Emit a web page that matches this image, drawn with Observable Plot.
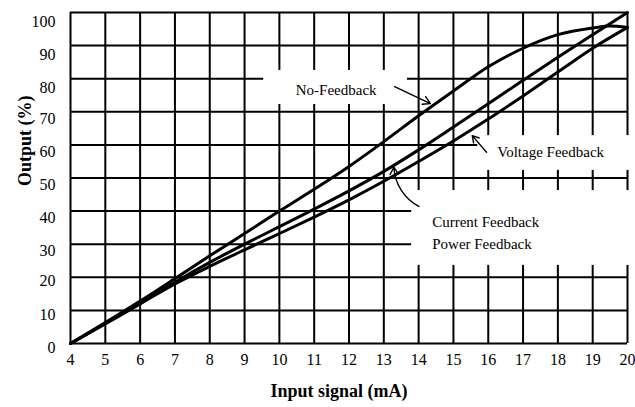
<!DOCTYPE html>
<html><head><meta charset="utf-8">
<script src="https://cdn.jsdelivr.net/npm/d3@7"></script>
<script src="https://cdn.jsdelivr.net/npm/@observablehq/plot@0.6"></script>
<style>
body{margin:0;background:#fff;}
g[aria-label="curve-labels"] text {letter-spacing:1.8px;}
</style></head><body><div id="chart"></div>
<script>
// Tick values
const xTicks = [4,5,6,7,8,9,10,11,12,13,14,15,16,17,18,19,20];
const yTicksLow = [0,10,20];
const yTicksMid = [30,40,50,60,70];
const yTicksHigh = [80,90,100];
const yTicks = [...yTicksLow, ...yTicksMid, ...yTicksHigh];

// Titles
const xTitle = "Input signal (mA)";
const yTitle = "Output (%)";

// Series
const inputMA = [4,5,6,7,8,9,10,11,12,13,14,15,16,17,18,19,20];
const noFeedbackX = [4,5,6,7,8,9,10,11,12,13,14,15,16,17,18,19,19.5,20];
const noFeedback = [0,6.3,12.8,19.6,26.5,33.2,40,46.6,53.5,61,68.8,76.3,83.6,89.2,93.3,95.3,95.9,95.5];
const currentPower = [0,6,12,18.5,24.5,30,35.3,40.6,46.1,52,58.5,65.4,72.4,79.5,86.5,93.3,100];
const voltage = [0,6,12,18,23.3,28.3,33.2,38.2,43.4,49,55,61.2,67.8,74.8,82,89.2,95.5];

// Annotation labels (data units)
const labelText = ["No-Feedback","Voltage Feedback","Current Feedback","Power Feedback"];
const labelX = [10.47, 16.26, 14.39, 14.39];
const labelY = [76.4, 57.8, 36.6, 30.1];

// White label boxes that interrupt the grid (data units)
const boxX1 = [9.55, 15.7, 13.8];
const boxX2 = [13.68, 20.3, 20.3];
const boxY1 = [72.2, 52.3, 23.6];
const boxY2 = [82.5, 62.8, 46.2];

// Arrows (data units)
const arrowX1 = [13.31, 15.95];
const arrowY1 = [77.6, 57.8];
const arrowX2 = [14.34, 15.54];
const arrowY2 = [72.5, 62.8];
const bentArrowX1 = [14.01], bentArrowY1 = [41.4], bentArrowX2 = [13.29], bentArrowY2 = [53.3];

const nf = noFeedbackX.map((x,i)=>({x, y:noFeedback[i]}));
const cp = inputMA.map((x,i)=>({x, y:currentPower[i]}));
const vf = inputMA.map((x,i)=>({x, y:voltage[i]}));
const labels = labelText.map((t,i)=>({t, x:labelX[i], y:labelY[i]}));
const boxes = boxX1.map((x1,i)=>({x1, x2:boxX2[i], y1:boxY1[i], y2:boxY2[i]}));
const arrows = arrowX1.map((x1,i)=>({x1, y1:arrowY1[i], x2:arrowX2[i], y2:arrowY2[i]}));
const bentArrows = bentArrowX1.map((x1,i)=>({x1, y1:bentArrowY1[i], x2:bentArrowX2[i], y2:bentArrowY2[i]}));

const chart = Plot.plot({
  width: 635, height: 407,
  marginLeft: 70, marginRight: 8, marginTop: 12, marginBottom: 64,
  style: {fontFamily: "'Liberation Serif', serif", fontSize: "16px", color: "black", background: "white"},
  x: {domain: [4,20]},
  y: {domain: [0,100]},
  marks: [
    Plot.gridX(xTicks, {stroke: "black", strokeOpacity: 1, strokeWidth: 2}),
    Plot.gridY(yTicks, {stroke: "black", strokeOpacity: 1, strokeWidth: 2}),
    Plot.rect(boxes, {x1: "x1", x2: "x2", y1: "y1", y2: "y2", fill: "white"}),
    Plot.line(vf, {x: "x", y: "y", stroke: "black", strokeWidth: 3, curve: "monotone-x"}),
    Plot.line(cp, {x: "x", y: "y", stroke: "black", strokeWidth: 3, curve: "monotone-x"}),
    Plot.line(nf, {x: "x", y: "y", stroke: "black", strokeWidth: 3, curve: "monotone-x"}),
    Plot.arrow(arrows, {x1: "x1", y1: "y1", x2: "x2", y2: "y2", stroke: "black", strokeWidth: 1.4, headLength: 9, inset: 0}),
    Plot.arrow(bentArrows, {x1: "x1", y1: "y1", x2: "x2", y2: "y2", bend: 30, stroke: "black", strokeWidth: 1.4, headLength: 9, inset: 0}),
    Plot.text(labels, {x: "x", y: "y", text: "t", textAnchor: "start", fontSize: 15, ariaLabel: "curve-labels"}),
    Plot.axisX(xTicks, {tickSize: 0, tickPadding: 10, fontSize: 16, label: null}),
    Plot.axisY(yTicksLow, {tickSize: 0, tickPadding: 15, fontSize: 16, dy: 4, label: null}),
    Plot.axisY(yTicksMid, {tickSize: 0, tickPadding: 15, fontSize: 16, dy: 7, label: null}),
    Plot.axisY(yTicksHigh, {tickSize: 0, tickPadding: 15, fontSize: 16, dy: 9, label: null}),
    Plot.text([xTitle], {frameAnchor: "bottom", dy: 53, dx: -10, fontWeight: "bold", fontSize: 18}),
    Plot.text([yTitle], {frameAnchor: "left", dx: -45, dy: 8, rotate: -90, fontWeight: "bold", fontSize: 18})
  ]
});
document.getElementById("chart").appendChild(chart);
</script></body></html>
